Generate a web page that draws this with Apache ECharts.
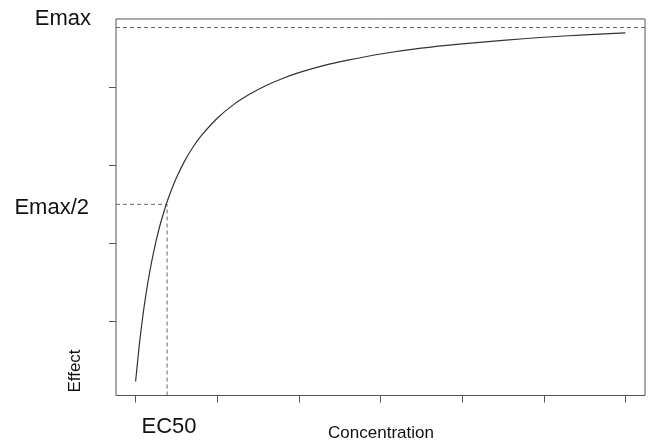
<!DOCTYPE html>
<html>
<head>
<meta charset="utf-8">
<script src="https://cdn.jsdelivr.net/npm/echarts@6/dist/echarts.min.js"></script>
<style>
html,body{margin:0;padding:0;background:#fff;}
#chart{width:649px;height:443px;}
</style>
</head>
<body>
<div id="chart"></div>
<script>
// Concentration values
const concentration = [0, 0.5, 1, 1.5, 2, 2.5, 3, 3.5, 4, 5, 6, 7, 8, 10, 12, 14, 16, 18, 20, 23, 26, 30, 35, 40, 45, 50, 55, 60];
// Effect values
const effect = [4.4, 14.7, 23.0, 29.8, 35.5, 40.4, 44.6, 48.2, 51.4, 56.7, 61.0, 64.5, 67.4, 72.0, 75.5, 78.2, 80.4, 82.2, 83.7, 85.5, 86.9, 88.5, 90.0, 91.1, 92.0, 92.8, 93.4, 93.9];
// Reference levels
const emaxLevel = 95.3;
const halfLevel = 49.9;
const ec50 = 3.86;
// Tick positions (no tick labels)
const xTicks = [0, 10, 20, 30, 40, 50, 60];
const yTicks = [20, 40, 60, 80];
const xRange = [-2.4, 62.4];
const yRange = [0.82, 97.48];
// Text labels
const labels = { emax: 'Emax', half: 'Emax/2', ec50: 'EC50', xTitle: 'Concentration', yTitle: 'Effect' };

const curve = concentration.map((c, i) => [c, effect[i]]);
const font = '"Liberation Sans", Arial, sans-serif';
const chart = echarts.init(document.getElementById('chart'), null, {renderer: 'canvas'});
const dashStyle = {color: '#666', width: 1, type: [4, 3]};
chart.setOption({
  animation: false,
  backgroundColor: '#fff',
  grid: {left: 116, top: 19, right: 4, bottom: 47.5, show: true, borderColor: '#555', borderWidth: 1, backgroundColor: 'transparent'},
  xAxis: {
    type: 'value', min: xRange[0], max: xRange[1],
    axisLine: {show: false, onZero: false}, splitLine: {show: false},
    axisTick: {show: true, inside: false, length: 7, lineStyle: {color: '#555'}, customValues: xTicks},
    axisLabel: {show: false, customValues: xTicks}
  },
  yAxis: {
    type: 'value', min: yRange[0], max: yRange[1],
    axisLine: {show: false, onZero: false}, splitLine: {show: false},
    axisTick: {show: true, inside: false, length: 7, lineStyle: {color: '#555'}, customValues: yTicks},
    axisLabel: {show: false, customValues: yTicks}
  },
  series: [
    {type: 'line', data: curve, smooth: 0.2, showSymbol: false, lineStyle: {color: '#333', width: 1.2}, z: 5},
    {type: 'line', data: [[xRange[0], emaxLevel], [xRange[1], emaxLevel]], showSymbol: false, lineStyle: dashStyle},
    {type: 'line', data: [[xRange[0], halfLevel], [ec50, halfLevel]], showSymbol: false, lineStyle: dashStyle},
    {type: 'line', data: [[ec50, yRange[0]], [ec50, halfLevel]], showSymbol: false, lineStyle: dashStyle}
  ],
  graphic: [
    {type: 'text', x: 91, y: 18.5, style: {text: labels.emax, font: '22px ' + font, fill: '#111', align: 'right', verticalAlign: 'middle'}},
    {type: 'text', x: 89, y: 208, style: {text: labels.half, font: '22px ' + font, fill: '#111', align: 'right', verticalAlign: 'middle'}},
    {type: 'text', x: 169, y: 427, style: {text: labels.ec50, font: '22px ' + font, fill: '#111', align: 'center', verticalAlign: 'middle'}},
    {type: 'text', x: 381, y: 433, style: {text: labels.xTitle, font: '17px ' + font, fill: '#111', align: 'center', verticalAlign: 'middle'}},
    {type: 'text', x: 75, y: 371, rotation: Math.PI / 2, style: {text: labels.yTitle, font: '17px ' + font, fill: '#111', align: 'center', verticalAlign: 'middle'}}
  ]
});
</script>
</body>
</html>
